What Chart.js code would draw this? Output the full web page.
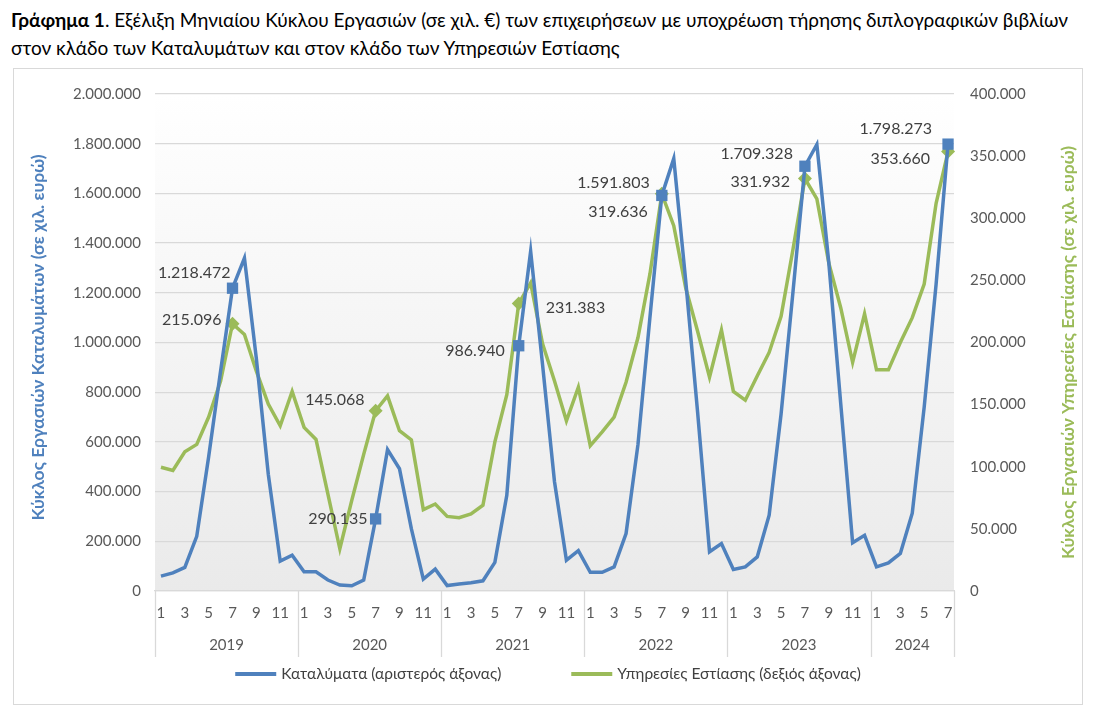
<!DOCTYPE html>
<html lang="el">
<head>
<meta charset="utf-8">
<title>Γράφημα 1</title>
<script src="https://cdn.jsdelivr.net/npm/chart.js@4.4.1/dist/chart.umd.min.js"></script>
<style>
  html, body { margin: 0; padding: 0; background: #fff; }
  body { width: 1096px; height: 719px; position: relative; overflow: hidden; font-family: Lato, "Open Sans", sans-serif; }
  #title { position: absolute; left: 11px; top: 6px; font-size: 19px; line-height: 28px; color: #000; white-space: nowrap; }
  #frame { position: absolute; left: 13px; top: 68px; width: 1068px; height: 635px; border: 1px solid #d9d9d9; }
  #chart { display: block; }
</style>
</head>
<body>
<div id="title"><b>Γράφημα 1</b>. Εξέλιξη Μηνιαίου Κύκλου Εργασιών (σε χιλ. €) των επιχειρήσεων με υποχρέωση τήρησης διπλογραφικών βιβλίων<br>στον κλάδο των Καταλυμάτων και στον κλάδο των Υπηρεσιών Εστίασης</div>
<div id="frame"><canvas id="chart" width="1068" height="635"></canvas></div>
<script>
// months of each point, Jan 2019 .. Jul 2024
const monthLabels = [
  1, 2, 3, 4, 5, 6, 7, 8, 9, 10, 11, 12,
  1, 2, 3, 4, 5, 6, 7, 8, 9, 10, 11, 12,
  1, 2, 3, 4, 5, 6, 7, 8, 9, 10, 11, 12,
  1, 2, 3, 4, 5, 6, 7, 8, 9, 10, 11, 12,
  1, 2, 3, 4, 5, 6, 7, 8, 9, 10, 11, 12,
  1, 2, 3, 4, 5, 6, 7
];
const years = ['2019', '2020', '2021', '2022', '2023', '2024'];

// Καταλύματα (left axis)
const accommodation = [
  60000, 73000, 95000, 220000, 540000, 885000, 1218472, 1340000, 935000, 470000, 120000, 144000,
  77000, 77000, 44000, 24000, 21000, 44000, 290135, 569000, 492000, 250000, 48000, 88000,
  22000, 28000, 33000, 41000, 115000, 385000, 986940, 1367000, 910000, 440000, 124000, 162000,
  75000, 75000, 97000, 231000, 590000, 1100000, 1591803, 1740000, 1250000, 720000, 158000, 191000,
  87000, 97000, 137000, 305000, 712000, 1205000, 1709328, 1797000, 1322000, 755000, 194000, 224000,
  97000, 113000, 151000, 313000, 740000, 1235000, 1798273
];

// Υπηρεσίες Εστίασης (right axis)
const foodService = [
  99600, 97000, 112000, 118000, 140000, 169000, 215096, 206500, 177000, 150500, 133000, 160600,
  131700, 122000, 78000, 34000, 73000, 110000, 145068, 157000, 129000, 121600, 65500, 70000,
  60000, 59000, 62000, 69000, 120000, 158000, 231383, 248000, 199000, 169000, 137000, 164000,
  117000, 128000, 140000, 168000, 204000, 255000, 319636, 294000, 244000, 209000, 172000, 210000,
  160600, 153600, 173000, 192000, 221000, 275000, 331932, 315600, 264000, 228000, 184000, 223000,
  178000, 178000, 200000, 220000, 247000, 312000, 353660
];

const seriesNames = ['Καταλύματα (αριστερός άξονας)', 'Υπηρεσίες Εστίασης (δεξιός άξονας)'];
const axisTitles = ['Κύκλος Εργασιών Καταλυμάτων (σε χιλ. ευρώ)', 'Κύκλος Εργασιών Υπηρεσίες Εστίασης (σε χιλ. ευρώ)'];

const BLUE = '#4f81bd';
const GREEN = '#9bbb59';
const FONT = 'Lato, "Open Sans", sans-serif';

function fmt(v) {
    return String(Math.round(v)).replace(/\B(?=(\d{3})+(?!\d))/g, '.');
}

function isJuly(i) {
    return monthLabels[i] === 7;
}

// where each July label sits relative to its marker: [dx, dy, align]
const labelSpots = [
    [[-2, -15, 'right'], [-8, 0, 'right'], [-14, 5, 'right'], [-12, -13, 'right'], [-12, -12, 'right'], [-16, -15, 'right']],
    [[-11, -4, 'right'], [-11, -11, 'right'], [27, 4, 'left'], [-14, 18, 'right'], [-15, 3, 'right'], [-18, 7, 'right']]
];

const decor = {
    id: 'decor',
    beforeDraw(chart) {
        const { ctx, chartArea: a } = chart;
        const g = ctx.createLinearGradient(0, a.top, 0, a.bottom);
        g.addColorStop(0, '#ffffff');
        g.addColorStop(1, '#eaeaea');
        ctx.save();
        ctx.fillStyle = g;
        ctx.fillRect(a.left, a.top, a.right - a.left, a.bottom - a.top);
        ctx.restore();
    },
    afterDatasetsDraw(chart) {
        const { ctx } = chart;
        ctx.save();
        ctx.font = '16px ' + FONT;
        ctx.fillStyle = '#404040';
        ctx.textBaseline = 'middle';
        chart.data.datasets.forEach((ds, d) => {
            const meta = chart.getDatasetMeta(d);
            let k = 0;
            ds.data.forEach((v, i) => {
                if (!isJuly(i)) return;
                const pt = meta.data[i];
                const spot = labelSpots[d][k++];
                ctx.textAlign = spot[2];
                ctx.fillText(fmt(v), pt.x + spot[0], pt.y + spot[1]);
            });
        });
        ctx.restore();
    },
    afterDraw(chart) {
        const { ctx, chartArea: a } = chart;
        const x = chart.scales.x;
        ctx.save();

        // year groups under the month ticks
        ctx.strokeStyle = '#d9d9d9';
        ctx.lineWidth = 1.3;
        ctx.font = '15px ' + FONT;
        ctx.fillStyle = '#595959';
        ctx.textAlign = 'center';
        ctx.textBaseline = 'middle';
        let start = 0;
        const bounds = [a.left];
        years.forEach(yr => {
            let end = start;
            while (end + 1 < monthLabels.length && monthLabels[end + 1] !== 1) end++;
            const cx = (x.getPixelForValue(start) + x.getPixelForValue(end)) / 2;
            ctx.fillText(yr, cx, a.bottom + 54);
            bounds.push(end + 1 < monthLabels.length
                ? (x.getPixelForValue(end) + x.getPixelForValue(end + 1)) / 2
                : a.right);
            start = end + 1;
        });
        bounds.forEach(bx => {
            ctx.beginPath();
            ctx.moveTo(Math.round(bx) + 0.5, a.bottom);
            ctx.lineTo(Math.round(bx) + 0.5, a.bottom + 66);
            ctx.stroke();
        });

        // axis titles, both reading bottom to top
        ctx.font = 'bold 17.5px ' + FONT;
        const midY = (a.top + a.bottom) / 2;
        [[24, BLUE, -5], [chart.width - 14, GREEN, 10]].forEach(([tx, col, shift], n) => {
            ctx.save();
            ctx.translate(tx, midY + shift);
            ctx.rotate(-Math.PI / 2);
            ctx.fillStyle = col;
            ctx.fillText(axisTitles[n], 0, 0);
            ctx.restore();
        });

        // legend
        ctx.font = '15.5px ' + FONT;
        ctx.textAlign = 'left';
        const lineW = 41, gapText = 5, gapItem = 70;
        const widths = seriesNames.map(s => ctx.measureText(s).width);
        const total = lineW * 2 + gapText * 2 + widths[0] + widths[1] + gapItem;
        let lx = (chart.width - total) / 2;
        const ly = a.bottom + 83;
        chart.data.datasets.forEach((ds, d) => {
            ctx.strokeStyle = ds.borderColor;
            ctx.lineWidth = 4;
            ctx.beginPath();
            ctx.moveTo(lx, ly);
            ctx.lineTo(lx + lineW, ly);
            ctx.stroke();
            ctx.fillStyle = '#404040';
            ctx.fillText(seriesNames[d], lx + lineW + gapText, ly);
            lx += lineW + gapText + widths[d] + gapItem;
        });
        ctx.restore();
    }
};

const tickFont = { family: FONT, size: 15 };

new Chart(document.getElementById('chart'), {
    type: 'line',
    data: {
        labels: monthLabels,
        datasets: [
            {
                label: seriesNames[0],
                data: accommodation,
                yAxisID: 'y',
                borderColor: BLUE,
                backgroundColor: BLUE,
                borderWidth: 3.5,
                tension: 0,
                pointStyle: 'rect',
                pointRadius: c => isJuly(c.dataIndex) ? 8 : 0,
                pointBorderWidth: 0
            },
            {
                label: seriesNames[1],
                data: foodService,
                yAxisID: 'y1',
                borderColor: GREEN,
                backgroundColor: GREEN,
                borderWidth: 3.5,
                tension: 0,
                pointStyle: 'rectRot',
                pointRadius: c => isJuly(c.dataIndex) ? 7 : 0,
                pointBorderWidth: 0
            }
        ]
    },
    options: {
        responsive: false,
        animation: false,
        events: [],
        layout: { padding: { top: 19, left: 0, right: 0, bottom: 47 } },
        plugins: {
            legend: { display: false },
            tooltip: { enabled: false }
        },
        scales: {
            x: {
                offset: true,
                grid: { display: false, drawTicks: false },
                border: { display: true, color: '#d9d9d9', width: 1.3 },
                ticks: {
                    autoSkip: false,
                    maxRotation: 0,
                    padding: 13,
                    color: '#595959',
                    font: tickFont,
                    callback: (v, i) => monthLabels[i] % 2 === 1 ? String(monthLabels[i]) : ''
                },
                afterFit: s => { s.height = 66; }
            },
            y: {
                position: 'left',
                min: 0,
                max: 2000000,
                ticks: { stepSize: 200000, padding: 14, color: '#595959', font: tickFont, callback: v => fmt(v) },
                grid: { color: '#d9d9d9', lineWidth: 1.3, drawTicks: false },
                border: { display: false },
                afterFit: s => { s.width = 141; }
            },
            y1: {
                position: 'right',
                min: 0,
                max: 400000,
                ticks: { stepSize: 50000, padding: 16, color: '#595959', font: tickFont, callback: v => fmt(v) },
                grid: { display: false, drawTicks: false },
                border: { display: false },
                afterFit: s => { s.width = 128; }
            }
        }
    },
    plugins: [decor]
});
</script>
</body>
</html>
